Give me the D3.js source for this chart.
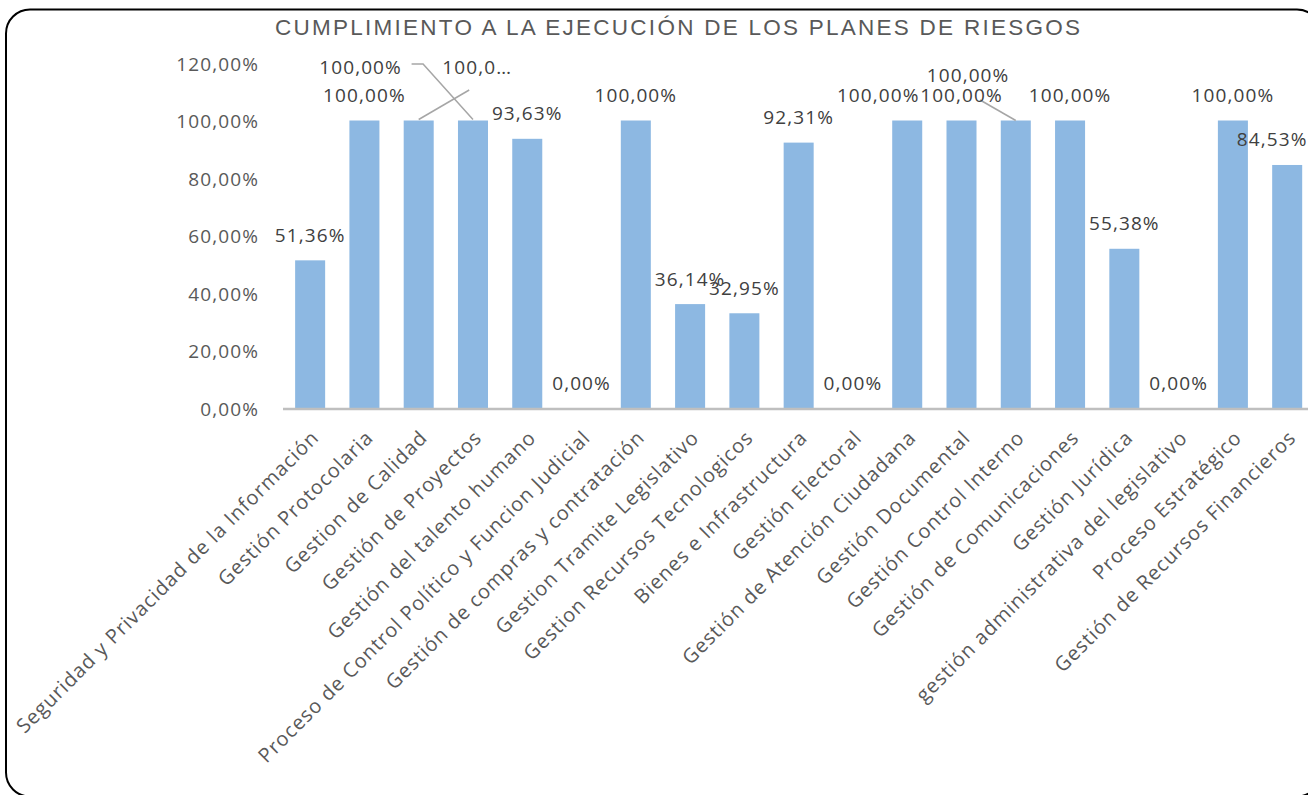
<!DOCTYPE html>
<html>
<head>
<meta charset="utf-8">
<script src="https://cdn.jsdelivr.net/npm/d3@7"></script>
<style>
  html, body { margin: 0; padding: 0; background: #fff; }
  svg { display: block; }
</style>
</head>
<body>
<svg id="chart" width="1308" height="795"></svg>
<script>
'use strict';

// ─── Data ─────────────────────────────────────────────────────────────────────
const TITLE = 'CUMPLIMIENTO A LA EJECUCIÓN DE LOS PLANES DE RIESGOS';

const categories = [
  'Seguridad y Privacidad de la Información',
  'Gestión Protocolaria',
  'Gestion de Calidad',
  'Gestión de Proyectos',
  'Gestión del talento humano',
  'Proceso de Control Político y Funcion Judicial',
  'Gestión de compras y contratación',
  'Gestion Tramite Legislativo',
  'Gestion Recursos Tecnologicos',
  'Bienes e Infrastructura',
  'Gestión Electoral',
  'Gestión de Atención Ciudadana',
  'Gestión Documental',
  'Gestión Control Interno',
  'Gestión de Comunicaciones',
  'Gestión Jurídica',
  'gestión administrativa del legislativo',
  'Proceso Estratégico',
  'Gestión de Recursos Financieros',
];

const cumplimiento = [
  0.5136, 1.0, 1.0, 1.0, 0.9363, 0.0, 1.0, 0.3614, 0.3295, 0.9231,
  0.0, 1.0, 1.0, 1.0, 1.0, 0.5538, 0.0, 1.0, 0.8453,
];

const yTicks = [0, 0.2, 0.4, 0.6, 0.8, 1.0, 1.2];

// ─── Layout ───────────────────────────────────────────────────────────────────
const PLOT_LEFT = 283;
const STEP = 54.28;
const Y_ZERO = 408;
const Y_TOP = 63;

// Excel moved a few labels around to avoid overlaps (dx, dy in px, optional leader)
const labelNudges = {
  2:  { dx: 58.5,   dy: -28, text: '100,0…', leader: 'fromBar' },
  3:  { dx: -112.4, dy: -28, leader: 'elbow' },
  11: { dx: -29,    dy: 0 },
  13: { dx: -47.7,  dy: -20, leader: 'fromLabel' },
  18: { dx: -15,    dy: 0 },
};

// ─── Formatting ───────────────────────────────────────────────────────────────
const esLocale = d3.formatLocale({ decimal: ',', thousands: '.', grouping: [3], currency: ['', '€'] });
const fmtPct = esLocale.format('.2%');

// ─── Draw ─────────────────────────────────────────────────────────────────────
const svg = d3.select('#chart');

// chart frame (runs off the right/bottom of the window like the source image)
svg.append('rect')
  .attr('x', 6).attr('y', 9.5)
  .attr('width', 1315).attr('height', 787)
  .attr('rx', 24).attr('ry', 24)
  .attr('fill', '#fff')
  .attr('stroke', '#000')
  .attr('stroke-width', 2);

// title
svg.append('text')
  .attr('x', 275).attr('y', 35)
  .attr('textLength', 805)
  .attr('lengthAdjust', 'spacing')
  .attr('font-family', '"Liberation Sans", Arial, sans-serif')
  .attr('font-size', 22.5)
  .attr('fill', '#595959')
  .text(TITLE);

const x = d3.scaleBand()
  .domain(categories)
  .range([PLOT_LEFT, PLOT_LEFT + STEP * categories.length])
  .paddingInner(0.447)
  .paddingOuter(0.2235);

const y = d3.scaleLinear()
  .domain([0, 1.2])
  .range([Y_ZERO, Y_TOP]);

const FONT = '"Open Sans", "Noto Sans", sans-serif';

// y axis labels (no axis line, no gridlines)
const yAxis = d3.axisLeft(y)
  .tickValues(yTicks)
  .tickFormat(fmtPct)
  .tickSize(0)
  .tickPadding(0);

const yg = svg.append('g')
  .attr('transform', 'translate(259,0)')
  .call(yAxis);
yg.select('.domain').remove();
yg.selectAll('text')
  .attr('font-family', FONT)
  .attr('font-size', 19)
  .attr('letter-spacing', 1.1)
  .attr('fill', '#595959')
  .attr('dy', '0.38em');

// bars
svg.append('g')
  .selectAll('rect')
  .data(categories)
  .join('rect')
  .attr('x', d => x(d))
  .attr('width', x.bandwidth())
  .attr('y', (d, i) => y(cumplimiento[i]))
  .attr('height', (d, i) => y(0) - y(cumplimiento[i]))
  .attr('fill', '#8db8e2');

// x axis (category labels rotated 45°)
const xAxis = d3.axisBottom(x).tickSize(0).tickPadding(0);
const xg = svg.append('g')
  .attr('transform', `translate(0,${Y_ZERO})`)
  .call(xAxis);
xg.select('.domain').remove();
xg.selectAll('text')
  .attr('font-family', FONT)
  .attr('font-size', 20)
  .attr('letter-spacing', 0.95)
  .attr('fill', '#595959')
  .attr('text-anchor', 'end')
  .attr('dy', null)
  .attr('y', 0)
  .attr('transform', 'translate(10,31) rotate(-45)');

svg.append('line')
  .attr('x1', PLOT_LEFT).attr('x2', 1320)
  .attr('y1', Y_ZERO + 1).attr('y2', Y_ZERO + 1)
  .attr('stroke', '#bfbfbf')
  .attr('stroke-width', 2.5);

// data labels + leader lines
const labels = categories.map((c, i) => {
  const cx = x(c) + x.bandwidth() / 2;
  const top = y(cumplimiento[i]);
  const n = labelNudges[i] || { dx: 0, dy: 0 };
  return {
    i, cx, top,
    lx: cx + n.dx,
    ly: top - 18.5 + n.dy,
    text: n.text || fmtPct(cumplimiento[i]),
    leader: n.leader,
  };
});

const leaderLine = d3.line();
const lg = svg.append('g')
  .attr('fill', 'none')
  .attr('stroke', '#a6a6a6')
  .attr('stroke-width', 1.5);

labels.filter(d => d.leader).forEach(d => {
  let pts;
  if (d.leader === 'elbow') {
    pts = [[d.lx + 51, d.ly - 10], [d.lx + 62.5, d.ly - 10], [d.cx, d.top - 1]];
  } else if (d.leader === 'fromBar') {
    pts = [[d.cx, d.top - 1], [d.lx - 8, d.ly + 16]];
  } else {
    pts = [[d.lx + 12, d.ly + 18], [d.cx, d.top]];
  }
  lg.append('path').attr('d', leaderLine(pts));
});

svg.append('g')
  .selectAll('text')
  .data(labels)
  .join('text')
  .attr('x', d => d.lx)
  .attr('y', d => d.ly)
  .attr('text-anchor', 'middle')
  .attr('font-family', FONT)
  .attr('font-size', 19)
  .attr('letter-spacing', 1.1)
  .attr('fill', '#404040')
  .text(d => d.text);
</script>
</body>
</html>
